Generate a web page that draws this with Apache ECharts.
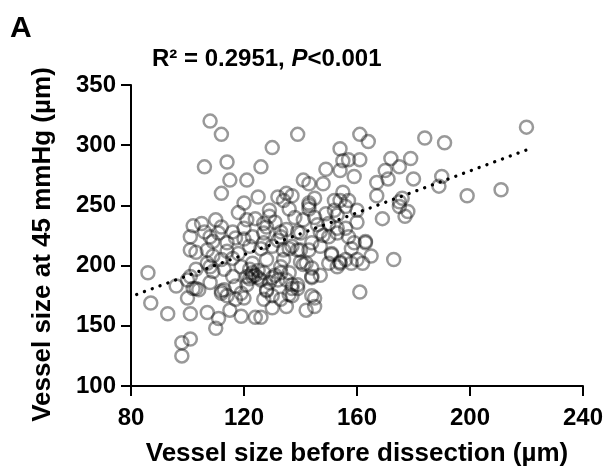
<!DOCTYPE html>
<html>
<head>
<meta charset="utf-8">
<script src="https://cdn.jsdelivr.net/npm/echarts@6/dist/echarts.min.js"></script>
<style>
  html, body { margin: 0; padding: 0; background: #fff; }
  #chart { width: 606px; height: 472px; }
</style>
</head>
<body>
<div id="chart"></div>
<script>
// vessel size before dissection (µm)
const xs = [108,112,106,114,115,121,126,130,112,125,120,118,102,101,
  139,161,164,154,155,157,161,149,154,159,172,179,175,170,180,167,171,141,143,148,137,132,134,136,143,143,145,155,157,154,152,160,167,176,175,178,177,169,141,147,150,153,156,157,129,127,133,139,
  220,184,191,190,189,199,211,
  86,87,93,98,101,98,96,101,100,101,103,104,107,110,111,115,119,124,101,103,107,108,112,113,117,120,121,123,128,117,
  173,161,165,163,159,158,162,158,156,153,154,151,147,144,145,142,139,137,135,130,126,142,144,150,153,140,137,134,133,130,128,130,136,137,133,127,140,140,133,127,127,128,127,
  106,108,111,109,114,117,120,121,124,128,123,122,126,130,132,134,107,109,112,116,119,122,123,126,121,116,113,109,103,100,102,108,112,114,119,129,132,123,125,
  143,135,152,156,153,149,135,146,148,163,175,136,139,143,147,151,150,144,141,136,135,144,154,160,139,144,145,137,
  124,125,122,131,133,118,114,120,116,112,105,110,129,131,138,145,160];
// vessel size at 45 mmHg (µm)
const ys = [320,309,282,286,271,271,282,298,260,257,252,244,233,224,
  309,309,303,297,287,288,288,280,279,274,289,289,282,279,272,269,272,271,268,268,258,257,254,247,250,247,256,261,254,254,246,246,258,256,249,245,241,239,238,228,235,231,231,224,241,235,228,228,
  315,306,302,274,266,258,263,
  194,169,160,136,139,125,183,191,173,160,181,180,161,148,156,163,158,157,213,211,202,199,179,180,172,173,191,194,180,183,
  205,178,208,219,219,214,202,202,205,199,203,209,192,190,173,163,184,181,166,165,157,202,219,224,227,213,216,205,199,190,179,175,176,175,172,172,203,227,224,227,219,205,194,
  228,224,227,220,219,223,231,238,239,232,224,216,214,216,221,213,213,208,205,206,199,197,191,188,184,191,197,195,197,188,181,186,177,175,177,186,188,202,196,
  252,260,254,249,242,243,230,234,225,220,253,214,213,213,216,210,202,198,201,194,188,191,202,205,181,175,166,184,
  192,190,189,192,194,210,212,222,228,232,235,238,246,236,240,240,236];

// regression line end points
const fitX = [82, 220];
const fitY = [176, 296];

const xTicks = { min: 80, max: 240, interval: 40 };
const yTicks = { min: 100, max: 350, interval: 50 };

const FONT = 'Arial, "Liberation Sans", sans-serif';

const chart = echarts.init(document.getElementById('chart'));

const axisCommon = {
  type: 'value',
  nameLocation: 'middle',
  axisLine: { onZero: false, lineStyle: { color: '#000', width: 2 } },
  axisTick: { length: 10, lineStyle: { color: '#000', width: 2 } },
  splitLine: { show: false },
};

chart.setOption({
  animation: false,
  grid: { left: 131, right: 22, top: 85, bottom: 85 },
  xAxis: {
    ...axisCommon,
    ...xTicks,
    name: 'Vessel size before dissection (µm)',
    nameGap: 55,
    nameTextStyle: { fontSize: 26, fontWeight: 'bold', color: '#000', fontFamily: FONT },
    axisLabel: { margin: 20, fontSize: 24, fontWeight: 'bold', color: '#000', fontFamily: FONT },
  },
  yAxis: {
    ...axisCommon,
    ...yTicks,
    name: 'Vessel size at 45 mmHg (µm)',
    nameGap: 75,
    // nudge the rotated title a bit downward
    nameTextStyle: { fontSize: 26, fontWeight: 'bold', color: '#000', fontFamily: FONT, padding: [0, 18, 0, 0] },
    axisLabel: { margin: 15, fontSize: 24, fontWeight: 'bold', color: '#000', fontFamily: FONT },
  },
  graphic: [
    {
      type: 'text',
      left: 10,
      top: 14,
      style: { text: 'A', font: 'bold 30px ' + FONT, fill: '#000' },
    },
    {
      type: 'text',
      left: 152,
      top: 47,
      style: {
        text: '{a|R² = 0.2951, }{b|P}{a|<0.001}',
        rich: {
          a: { fontSize: 24, fontWeight: 'bold', fontFamily: FONT, color: '#000' },
          b: { fontSize: 24, fontWeight: 'bold', fontStyle: 'italic', fontFamily: FONT, color: '#000' },
        },
      },
    },
  ],
  series: [
    {
      type: 'scatter',
      symbol: 'circle',
      symbolSize: 13,
      data: xs.map((x, i) => [x, ys[i]]),
      itemStyle: { color: 'rgba(0,0,0,0)', borderColor: 'rgba(0,0,0,0.5)', borderWidth: 2.5 },
      emphasis: { disabled: true },
    },
    {
      type: 'line',
      symbol: 'none',
      data: fitX.map((x, i) => [x, fitY[i]]),
      lineStyle: { color: '#000', width: 3.3, type: [0.1, 8.2], cap: 'round' },
      silent: true,
    },
  ],
});
</script>
</body>
</html>
